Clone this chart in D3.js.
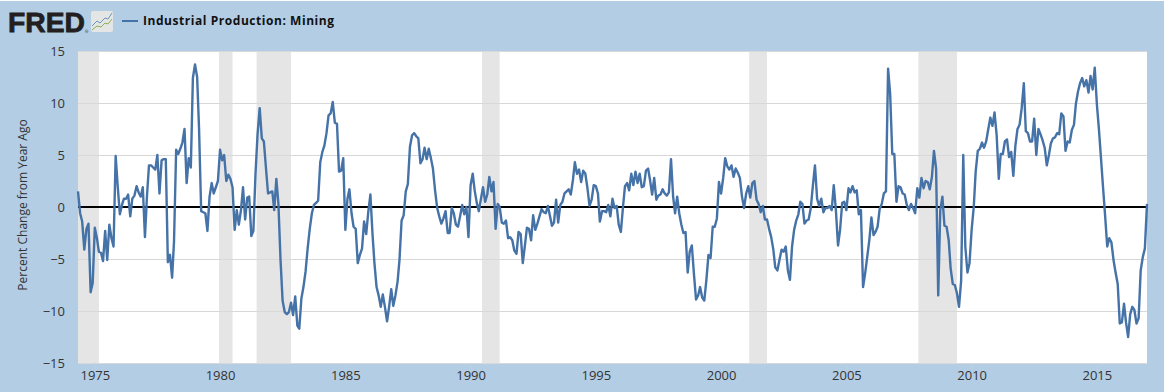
<!DOCTYPE html>
<html>
<head>
<meta charset="utf-8">
<script src="https://cdn.jsdelivr.net/npm/d3@7"></script>
<style>
  html, body { margin: 0; padding: 0; background: #fff; overflow: hidden; }
  text { font-family: "Open Sans", sans-serif; }
</style>
</head>
<body>
<div id="container"></div>
<script>
let w = 1164;
let h = 392;
let plotLeft = 78;
let plotRight = 1147;
let plotTop = 51;
let plotBottom = 363;

// monthly values, percent change from year ago
let firstMonth = new Date(1974, 4, 1);
let values1970s = [
  1.5,-0.6,-1.4,-4.1,-2.1,-1.6,-8.2,-7.3,
  -2.0,-3.0,-4.3,-4.4,-5.2,-2.3,-5.1,-1.7,-3.0,-3.8,4.9,2.0,
  -0.7,0.2,0.8,0.8,1.2,-0.9,0.8,1.1,2.0,1.4,1.0,1.9,
  -2.9,1.2,4.0,4.0,3.8,3.6,5.0,1.3,4.5,4.6,4.6,-5.3,
  -4.6,-6.8,-3.3,5.5,5.1,5.6,6.2,7.5,2.3,4.7,3.8,12.4,
  13.7,12.5,7.5,-0.4,-0.5,-0.6,-2.3,1.0,2.3,1.3,1.9,2.5
];
let values1980s = [
  5.5,4.5,5.0,2.5,3.1,2.7,1.9,-2.2,-0.3,-1.7,-0.3,1.9,
  -1.2,0.9,1.0,-2.8,-2.3,3.2,7.0,9.5,6.6,6.3,3.7,1.3,
  1.4,1.5,-0.3,2.7,0.3,-5.1,-9.0,-10.1,-10.3,-10.1,-9.2,-10.4,
  -8.6,-11.4,-11.7,-8.8,-7.7,-6.2,-4.0,-2.1,-0.6,0.2,0.4,0.6,
  4.3,5.3,5.9,7.1,8.8,9.0,10.1,8.1,8.0,3.4,3.5,4.7,
  -2.2,0.8,1.7,-0.6,-1.9,-2.1,-5.4,-4.6,-4.0,-1.4,-2.6,-0.5,
  1.2,-2.6,-5.4,-7.7,-8.5,-9.6,-8.4,-9.6,-11.0,-9.6,-7.9,-9.5,
  -8.5,-7.2,-5.1,-1.3,-0.8,1.5,2.2,5.8,6.9,7.1,6.8,6.6,
  4.2,4.6,5.7,4.6,5.6,4.7,3.7,1.6,-0.1,-0.9,-1.6,-1.1,
  -0.4,-2.5,-2.5,-0.1,-0.6,-1.7,-1.9,-0.9,0.2,-0.7,0,-2.9
];
let values1990s = [
  2.1,3.2,1.6,0.4,-0.4,0.8,1.9,0.5,1.2,2.9,1.5,2.4,
  -2.1,0.3,0,-1.5,-1.6,-1.3,-3.0,-2.9,-3.2,-4.2,-4.5,-2.4,
  -2.6,-5.4,-3.8,-2.0,-2.1,-3.2,-0.8,-2.2,-1.6,-0.9,-0.2,-0.5,
  -0.6,0.1,-0.8,-1.8,-1.5,0.7,-1.5,0.2,0.5,1.3,1.5,1.7,
  1.2,2.6,4.3,3.2,3.6,2.4,3.5,3.2,1.8,0.1,0.7,2.1,
  2.0,1.3,-1.4,-0.4,-0.4,-0.5,0.2,-0.9,0.8,-0.1,0.1,-1.7,
  -2.4,0,2.0,2.3,1.6,3.2,2.1,3.4,2.3,3.2,1.9,2.0,
  3.5,3.7,2.6,1.2,2.8,0.7,1.1,1.2,1.7,1.3,1.1,1.4,
  4.6,1.0,-0.6,1.0,-0.6,-1.7,-2.5,-2.4,-6.3,-4.3,-3.7,-6.4,
  -8.9,-8.5,-7.7,-8.7,-9.0,-7.0,-4.6,-4.9,-1.9,-1.9,-1.1,2.4
];
let values2000s = [
  1.3,2.8,4.7,3.9,3.6,4.0,2.9,3.7,3.3,2.8,1.0,-0.1,
  1.3,2.0,0.9,2.3,2.5,0.7,0.3,-0.5,0.1,-1.2,-1.2,-2.1,
  -2.9,-4.1,-5.8,-6.1,-5.1,-4.1,-4.3,-3.8,-6.1,-7.0,-3.8,-2.2,
  -1.3,-0.7,0.5,0.3,-1.6,-1.3,-1.2,-0.1,2.1,4.0,0.8,0.1,
  0.8,-0.5,-0.1,-0.1,0.1,-0.3,2.1,-0.3,-3.7,-2.2,0.4,0.5,
  -0.3,1.8,1.4,2.0,1.4,1.6,-0.7,-0.3,-7.7,-6.4,-4.8,-3.2,
  -1.0,-2.7,-2.4,-1.9,-0.2,0.3,1.3,1.5,13.3,10.9,5.1,5.1,
  0.5,2.0,1.9,1.3,1.2,0.2,-0.3,0.3,-0.1,-0.6,1.8,0.9,
  2.8,1.8,2.5,2.4,1.7,2.9,5.4,3.7,-8.5,-0.3,1.0,-1.8,
  -1.9,-3.2,-5.9,-7.4,-7.5,-8.3,-9.6,-7.1,5.0,-3.8,-6.3,-5.4
];
let values2010s = [
  -2.2,0,3.4,5.4,5.6,6.2,5.7,6.3,7.5,8.6,7.8,9.1,
  6.9,2.7,5.1,5.1,6.3,6.5,4.8,5.3,3.0,5.9,7.5,7.9,
  9.5,11.9,7.3,7.1,6.3,6.3,8.5,5.0,7.5,7.0,6.4,5.7,
  4.0,5.0,6.1,6.6,6.7,7.1,7.0,9.0,8.7,5.4,6.3,6.2,
  7.4,7.9,9.9,11.1,11.9,12.4,11.6,12.2,11.0,12.6,11.3,13.4,
  9.9,7.4,4.8,1.9,-0.8,-3.8,-3.0,-3.4,-5.1,-6.3,-7.4,-11.2,
  -11.1,-9.3,-11.1,-12.5,-10.3,-9.6,-9.9,-11.2,-10.7,-6.1,-4.8,-4.0,
  0.3
];
let recessionStarts = ["1973-11", "1980-01", "1981-07", "1990-07", "2001-03", "2007-12"];
let recessionEnds = ["1975-03", "1980-07", "1982-11", "1991-03", "2001-11", "2009-06"];
let yTicks = [-15, -10, -5, 0, 5, 10, 15];
let xTickYears = [1975, 1980, 1985, 1990, 1995, 2000, 2005, 2010, 2015];
let seriesName = "Industrial Production: Mining";
let yAxisLabel = "Percent Change from Year Ago";

let allValues = values1970s.concat(values1980s, values1990s, values2000s, values2010s);
let parseMonth = d3.timeParse("%Y-%m");
let months = allValues.map(function(d, i){
  return d3.timeMonth.offset(firstMonth, i);
});

let xScale = d3.scaleTime().domain([firstMonth, months[months.length - 1]]).range([plotLeft, plotRight]);
let yScale = d3.scaleLinear().domain([-15, 15]).range([plotBottom, plotTop]);

let viz = d3.select("#container")
  .append("svg")
    .attr("width", w)
    .attr("height", h)
    .style("display", "block")
;

// page background and plot area
viz.append("rect").attr("x", 0).attr("y", 1).attr("width", w).attr("height", h - 1).attr("fill", "#b3cde5");
viz.append("rect")
  .attr("x", plotLeft).attr("y", plotTop)
  .attr("width", plotRight - plotLeft).attr("height", plotBottom - plotTop)
  .attr("fill", "#ffffff");

// recession bands, the left edges sit about a pixel before the month
function bandLeft(d){
  return Math.max(plotLeft, xScale(parseMonth(d)) - 1);
}
viz.append("g").selectAll("rect")
  .data(recessionStarts)
  .enter()
  .append("rect")
    .attr("x", bandLeft)
    .attr("y", plotTop)
    .attr("width", function(d, i){
      return xScale(parseMonth(recessionEnds[i])) - bandLeft(d);
    })
    .attr("height", plotBottom - plotTop)
    .attr("fill", "#e5e5e5");

// y axis, tick lines become the grid
let yAxisGroup = viz.append("g")
  .attr("class", "yaxis")
  .attr("transform", "translate(" + plotLeft + ",0)")
  .call(d3.axisLeft(yScale).tickValues(yTicks).tickSize(-(plotRight - plotLeft)).tickPadding(13));
yAxisGroup.select(".domain").remove();
yAxisGroup.selectAll("line").attr("stroke", "#d8d8d8").attr("stroke-width", 1);
yAxisGroup.selectAll("text").attr("fill", "#333333").style("font-size", "13px");

// x axis
let xAxisGroup = viz.append("g")
  .attr("class", "xaxis")
  .attr("transform", "translate(0," + plotBottom + ")")
  .call(d3.axisBottom(xScale)
    .tickValues(xTickYears.map(function(y){ return new Date(y, 0, 1); }))
    .tickFormat(d3.timeFormat("%Y"))
    .tickSize(7)
    .tickPadding(1));
xAxisGroup.select(".domain").remove();
xAxisGroup.selectAll("line").attr("stroke", "#c0d0e0");
xAxisGroup.selectAll("text").attr("fill", "#333333").style("font-size", "13px");

viz.append("text")
  .attr("transform", "translate(27,205) rotate(-90)")
  .attr("text-anchor", "middle")
  .attr("fill", "#333333")
  .style("font-size", "12px")
  .text(yAxisLabel);

// zero line
viz.append("line")
  .attr("x1", plotLeft).attr("x2", plotRight)
  .attr("y1", yScale(0)).attr("y2", yScale(0))
  .attr("stroke", "#000000").attr("stroke-width", 2);

// the series
let linePath = d3.line()
  .x(function(d, i){ return xScale(months[i]); })
  .y(function(d){ return yScale(d); });

viz.append("path")
  .attr("d", linePath(allValues))
  .attr("fill", "none")
  .attr("stroke", "#4572a7")
  .attr("stroke-width", 2.4)
  .attr("stroke-linejoin", "round");

// legend
viz.append("line")
  .attr("x1", 122).attr("x2", 138).attr("y1", 21).attr("y2", 21)
  .attr("stroke", "#4572a7").attr("stroke-width", 2);
viz.append("text")
  .attr("x", 143).attr("y", 25)
  .attr("fill", "#111111")
  .style("font-size", "12px")
  .style("font-weight", "700")
  .style("letter-spacing", "0.55px")
  .text(seriesName);

// FRED logo
viz.append("text")
  .attr("x", 8).attr("y", 32)
  .attr("textLength", 77)
  .attr("lengthAdjust", "spacingAndGlyphs")
  .attr("fill", "#231f20")
  .attr("stroke", "#231f20")
  .attr("stroke-width", 0.8)
  .style("font-family", "'Liberation Sans', sans-serif")
  .style("font-size", "28px")
  .style("font-weight", "700")
  .text("FRED");
viz.append("text")
  .attr("x", 85).attr("y", 33)
  .attr("fill", "#231f20")
  .style("font-size", "4px")
  .text("®");
let icon = viz.append("g").attr("transform", "translate(91,11)");
icon.append("rect").attr("width", 22).attr("height", 21).attr("rx", 2).attr("fill", "#e4e6e6");
icon.append("path").attr("d", "M1,15 L6,10 L9,12 L14,7 L17,8 L21,2")
  .attr("fill", "none").attr("stroke", "#6f94b8").attr("stroke-width", 1);
icon.append("path").attr("d", "M1,19 L6,15 L10,16 L14,12 L17,13 L21,8")
  .attr("fill", "none").attr("stroke", "#8fae5a").attr("stroke-width", 1);
</script>
</body>
</html>
